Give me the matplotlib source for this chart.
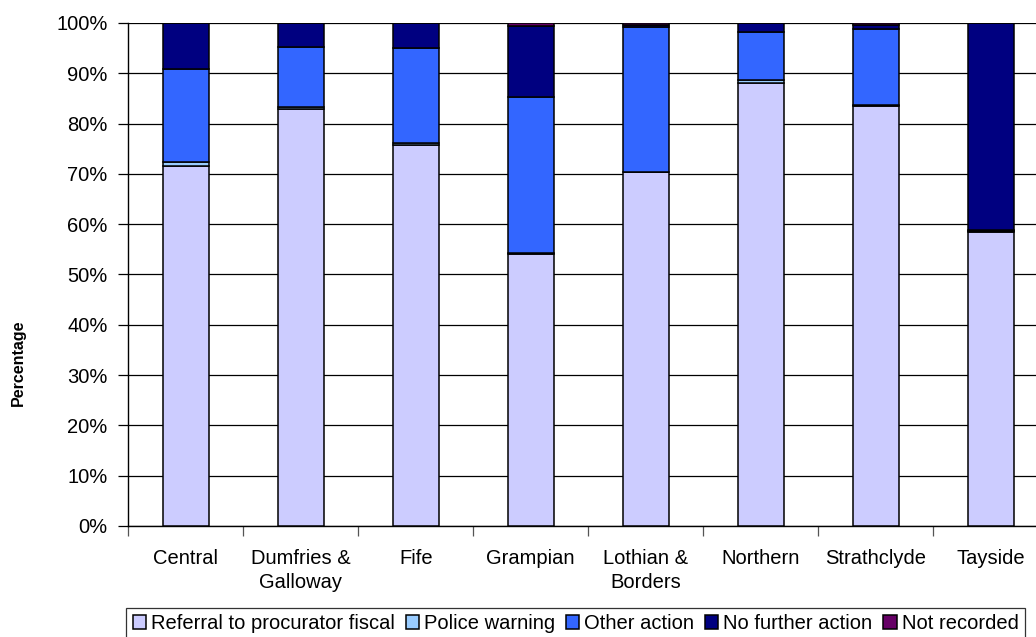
import numpy as np
import matplotlib
matplotlib.use("Agg")
import matplotlib.pyplot as plt
from matplotlib.ticker import PercentFormatter, FixedLocator

plt.rcParams['font.family'] = ['Liberation Sans', 'DejaVu Sans']

forces = ["Central", "Dumfries &\nGalloway", "Fife", "Grampian", "Lothian &\nBorders",
          "Northern", "Strathclyde", "Tayside"]
series_names = ["Referral to procurator fiscal", "Police warning", "Other action",
                "No further action", "Not recorded"]
referral = [71.5, 83.0, 75.8, 54.1, 70.3, 88.0, 83.5, 58.4]
police_warning = [0.8, 0.2, 0.3, 0.2, 0.1, 0.6, 0.1, 0.3]
other_action = [18.6, 12.0, 18.9, 31.0, 28.8, 9.6, 15.3, 0.2]
no_further = [9.1, 4.8, 5.0, 14.1, 0.4, 1.8, 0.8, 41.1]
not_recorded = [0.0, 0.0, 0.0, 0.6, 0.4, 0.0, 0.3, 0.0]
colors = ["#CCCCFF", "#99CCFF", "#3366FF", "#000080", "#660066"]

fig = plt.figure(figsize=(10.36, 6.37), dpi=100)
ax = fig.add_axes([0.1238, 0.1743, 0.888, 0.7896])

x = np.arange(len(forces))
bottom = np.zeros(len(forces))
for name, vals, c in zip(series_names,
                         [referral, police_warning, other_action, no_further, not_recorded],
                         colors):
    vals = np.array(vals)
    ax.bar(x, vals, 0.4, bottom=bottom, color=c, edgecolor="black", linewidth=1.1,
           label=name, zorder=3)
    bottom += vals

ax.set_xlim(-0.5, len(forces) - 0.5)
ax.set_ylim(0, 100)
ax.set_yticks(np.arange(0, 101, 10))
ax.yaxis.set_major_formatter(PercentFormatter(decimals=0))
ax.yaxis.grid(True, color="black", linewidth=0.9, zorder=0)
ax.set_axisbelow(True)

ax.set_xticks(x)
ax.set_xticklabels(forces, fontsize=14.5, linespacing=1.35)
ax.xaxis.set_minor_locator(FixedLocator(np.arange(-0.5, len(forces), 1.0)))
ax.tick_params(axis="x", which="major", length=0, pad=16.5)
ax.tick_params(axis="x", which="minor", length=7, width=0.9, color="#555555")
ax.tick_params(axis="y", length=7, width=0.9, pad=8, labelsize=14.5)

for s in ["top", "right"]:
    ax.spines[s].set_visible(False)
ax.spines["left"].set_linewidth(1.0)
ax.spines["bottom"].set_linewidth(1.0)

fig.text(18 / 1036, 274.5 / 637, "Percentage", rotation=90, fontsize=11.5,
         fontweight="bold", ha="center", va="center")

leg = fig.legend(loc="upper center", bbox_to_anchor=(575.5 / 1036, 29 / 637), ncol=5,
                 fontsize=14.5, frameon=True, fancybox=False, edgecolor="black",
                 handlelength=0.65, handleheight=0.65, handletextpad=0.25,
                 columnspacing=0.55, borderpad=0.3, borderaxespad=0)
leg.get_frame().set_linewidth(0.9)

fig.savefig("out.png", dpi=100)
